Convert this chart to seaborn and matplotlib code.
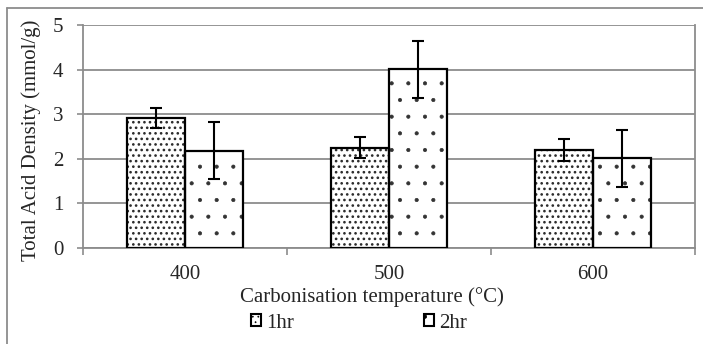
import matplotlib
matplotlib.use("Agg")
import matplotlib.pyplot as plt
import seaborn as sns
import pandas as pd
import numpy as np
from matplotlib.lines import Line2D
from matplotlib.patches import Rectangle

temps = ["400", "500", "600"]
series = ["1hr", "2hr"]
vals_1hr = [2.92, 2.25, 2.20]
vals_2hr = [2.18, 4.01, 2.01]
err_1hr = [0.23, 0.23, 0.24]
err_2hr = [0.64, 0.64, 0.64]
yticks = [0, 1, 2, 3, 4, 5]

df = pd.DataFrame({
    "temp": temps * 2,
    "series": ["1hr"] * 3 + ["2hr"] * 3,
    "value": vals_1hr + vals_2hr,
    "err": err_1hr + err_2hr,
})

sns.set_theme(style="white")
plt.rcParams["font.family"] = ["Liberation Serif", "DejaVu Serif"]
plt.rcParams["hatch.linewidth"] = 0.5

fig = plt.figure(figsize=(7.03, 3.44), dpi=100)
ax = fig.add_axes([83 / 703, 1 - 248 / 344, 612 / 703, 223 / 344])

hatch_c = {"1hr": "#2a2a2a", "2hr": "#333333"}
hatch_lw = {"1hr": 1.1, "2hr": 0.5}
sns.barplot(data=df, x="temp", y="value", hue="series", order=temps,
            hue_order=series, palette=["white", "white"], width=0.57,
            errorbar=None, edgecolor="#444444", linewidth=0, ax=ax,
            legend=False, zorder=3)

hatches = {"1hr": "...", "2hr": "."}
for container, s in zip(ax.containers, series):
    sub = df[df["series"] == s].set_index("temp").loc[temps]
    for patch, v, e in zip(container.patches, sub["value"], sub["err"]):
        patch.set_hatch(hatches[s])
        patch.set_edgecolor(hatch_c[s])
        patch.set_linewidth(0)
        if hasattr(patch, "set_hatch_linewidth"):
            patch.set_hatch_linewidth(hatch_lw[s])
        else:
            patch._hatch_linewidth = hatch_lw[s]
        outline = Rectangle(patch.get_xy(), patch.get_width(), patch.get_height(),
                            facecolor="none", edgecolor="black", linewidth=1.6,
                            zorder=3.5)
        ax.add_patch(outline)
        cx = patch.get_x() + patch.get_width() / 2
        ax.errorbar(cx, v, yerr=e, color="black", capsize=4.5,
                    elinewidth=1.5, capthick=1.5, zorder=4)

grid_c = "#8c8c8c"
ax.set_ylim(0, 5)
ax.set_xlim(-0.5, 2.5)
ax.set_yticks(yticks)
ax.yaxis.grid(True, color=grid_c, linewidth=1.3, zorder=0)
ax.set_axisbelow(True)
for sp in ax.spines.values():
    sp.set_color(grid_c)
    sp.set_linewidth(1.3)
ax.spines["top"].set_visible(False)

ax.tick_params(axis="y", which="major", length=4, width=1.2, color=grid_c,
               pad=10, labelsize=15, left=True)
ax.set_xticks([-0.5, 0.5, 1.5, 2.5], minor=True)
ax.tick_params(axis="x", which="minor", length=5, width=1.2, color=grid_c,
               bottom=True)
ax.tick_params(axis="x", which="major", length=0, pad=12, labelsize=15)

ax.set_ylabel("Total Acid Density (mmol/g)", fontsize=15)
ax.yaxis.set_label_coords((41 - 83) / 612, 0.485)
ax.set_xlabel("Carbonisation temperature (°C)", fontsize=15)
ax.xaxis.set_label_coords((372 - 83) / 612, -0.175)

handles = []
for s in series:
    h = Rectangle((0, 0), 1, 1, facecolor="white", edgecolor="black",
                  hatch=hatches[s], linewidth=1.5)
    handles.append(h)
fig.legend(handles, series, loc="center", bbox_to_anchor=(359 / 703, 1 - 323 / 344),
           ncol=2, frameon=False, fontsize=15, handlelength=0.5, handleheight=0.5,
           handletextpad=0.25, columnspacing=6.2, borderpad=0)

fig.add_artist(Line2D([7.5 / 703, 7.5 / 703], [0, 1 - 7.5 / 344], color=grid_c,
                      linewidth=1.3, transform=fig.transFigure))
fig.add_artist(Line2D([7.5 / 703, 1], [1 - 7.5 / 344, 1 - 7.5 / 344], color=grid_c,
                      linewidth=1.3, transform=fig.transFigure))

fig.savefig("out.png", dpi=100)
